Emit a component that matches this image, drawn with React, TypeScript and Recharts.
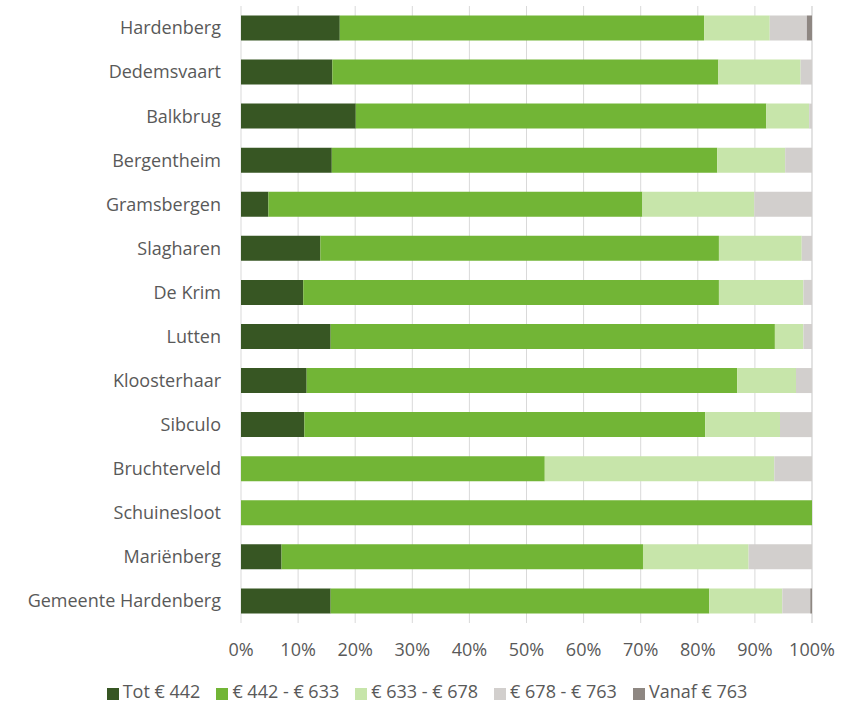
import { BarChart, Bar, XAxis, YAxis, CartesianGrid, Legend } from 'recharts';

const wijken = [
  'Hardenberg',
  'Dedemsvaart',
  'Balkbrug',
  'Bergentheim',
  'Gramsbergen',
  'Slagharen',
  'De Krim',
  'Lutten',
  'Kloosterhaar',
  'Sibculo',
  'Bruchterveld',
  'Schuinesloot',
  'Mariënberg',
  'Gemeente Hardenberg',
];

// aandeel per huurklasse (%)
const tot442 = [17.3, 16.0, 20.1, 15.9, 4.8, 13.9, 10.9, 15.7, 11.5, 11.1, 0, 0, 7.1, 15.7];
const van442tot633 = [63.8, 67.6, 71.9, 67.5, 65.5, 69.8, 72.8, 77.8, 75.4, 70.2, 53.2, 100, 63.3, 66.3];
const van633tot678 = [11.5, 14.4, 7.5, 11.9, 19.6, 14.5, 14.8, 5.0, 10.3, 13.1, 40.2, 0, 18.5, 12.8];
const van678tot763 = [6.5, 2.0, 0.5, 4.7, 10.1, 1.8, 1.5, 1.5, 2.8, 5.6, 6.6, 0, 11.1, 4.9];
const vanaf763 = [0.9, 0, 0, 0, 0, 0, 0, 0, 0, 0, 0, 0, 0, 0.3];

const xTicks = [0, 10, 20, 30, 40, 50, 60, 70, 80, 90, 100];

const series = [
  { key: 'tot442', name: 'Tot € 442', color: '#375623' },
  { key: 'van442tot633', name: '€ 442 - € 633', color: '#72b536' },
  { key: 'van633tot678', name: '€ 633 - € 678', color: '#c7e5aa' },
  { key: 'van678tot763', name: '€ 678 - € 763', color: '#d2cfcd' },
  { key: 'vanaf763', name: 'Vanaf € 763', color: '#8e8782' },
];

const data = wijken.map((naam, i) => ({
  naam,
  tot442: tot442[i],
  van442tot633: van442tot633[i],
  van633tot678: van633tot678[i],
  van678tot763: van678tot763[i],
  vanaf763: vanaf763[i],
}));

const font = '"Open Sans", sans-serif';
const textColor = '#595959';

export default function App() {
  return (
    <div style={{ position: 'absolute', left: 0, top: 0, background: '#fff' }}>
      <BarChart
        width={850}
        height={707}
        data={data}
        layout="vertical"
        barCategoryGap="21.5%"
        margin={{ top: 6, right: 38, left: 0, bottom: 4 }}
      >
        <CartesianGrid horizontal={false} stroke="#d9d9d9" strokeWidth={1} />
        <XAxis
          type="number"
          domain={[0, 100]}
          ticks={xTicks}
          tickFormatter={(v) => `${v}%`}
          axisLine={false}
          tickLine={false}
          tickSize={0}
          tickMargin={20}
          height={56}
          interval={0}
          tick={{ fill: textColor, fontSize: 18, fontFamily: font }}
        />
        <YAxis
          type="category"
          dataKey="naam"
          width={241}
          axisLine={false}
          tickLine={false}
          tickSize={0}
          tickMargin={20}
          interval={0}
          tick={{ fill: textColor, fontSize: 18, fontFamily: font }}
        />
        <Legend
          iconType="square"
          iconSize={12}
          itemSorter={(item: any) => series.findIndex((s) => s.name === item.value)}
          wrapperStyle={{ left: 29 }}
          formatter={(value) => (
            <span style={{ color: textColor, fontSize: 18, fontFamily: font, marginRight: 6 }}>
              {value}
            </span>
          )}
        />
        {series.map((s) => (
          <Bar
            key={s.key}
            dataKey={s.key}
            name={s.name}
            stackId="huur"
            fill={s.color}
            isAnimationActive={false}
          />
        ))}
      </BarChart>
    </div>
  );
}
